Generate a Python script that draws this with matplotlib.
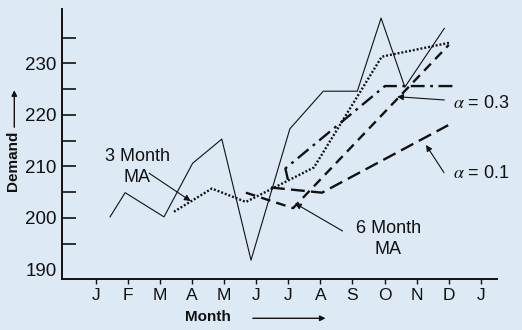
import matplotlib
matplotlib.use("Agg")
import matplotlib.pyplot as plt

plt.rcParams["font.family"] = ["Liberation Sans", "DejaVu Sans"]
plt.rcParams["mathtext.fontset"] = "stix"
plt.rcParams["lines.scale_dashes"] = False

BG = "#dde9f5"
INK = "#111111"

# month axis: J F M A M J J A S O N D J
month_labels = ["J", "F", "M", "A", "M", "J", "J", "A", "S", "O", "N", "D", "J"]

# actual demand
demand_x = [0.45, 0.92, 2.13, 3.02, 3.93, 4.84, 6.05, 7.09, 8.15, 8.89, 9.63, 10.86]
demand = [200.2, 204.9, 200.2, 210.6, 215.3, 191.8, 217.3, 224.6, 224.6, 238.8, 225.4, 236.8]

# 3 month moving average
ma3_x = [2.44, 3.62, 4.68, 6.80, 8.91, 11.01]
ma3 = [201.2, 205.7, 203.1, 209.8, 231.3, 234.0]

# 6 month moving average
ma6_x = [4.68, 6.15, 11.0]
ma6 = [204.9, 201.9, 233.6]

# exponential smoothing, alpha = 0.3
es3_x = [5.99, 5.91, 9.01, 11.13]
es3 = [207.4, 209.6, 225.6, 225.6]

# exponential smoothing, alpha = 0.1
es1_x = [5.46, 7.05, 10.98]
es1 = [205.9, 204.9, 218.0]

y_major = [190, 200, 210, 220, 230]
y_minor = [195, 205, 215, 225, 235]

fig = plt.figure(figsize=(5.22, 3.30), dpi=100, facecolor=BG)
ax = fig.add_axes([0.1188, 0.1536, 0.8333, 0.8182])
ax.set_facecolor(BG)

ax.plot(demand_x, demand, color=INK, lw=0.8)
ax.plot(ma3_x, ma3, color=INK, lw=1.7, linestyle=(0, (1.4, 1.4)))
ax.plot(ma6_x, ma6, color=INK, lw=1.7, linestyle=(0, (7, 4.5)))
ax.plot(es3_x, es3, color=INK, lw=1.7, linestyle=(0, (10, 4, 2, 4)))
ax.plot(es1_x, es1, color=INK, lw=1.7, linestyle=(0, (10, 4.5)))

ax.set_xlim(-1.046, 12.5)
ax.set_ylim(188.08, 240.5)

for side in ("top", "right"):
    ax.spines[side].set_visible(False)
for side in ("left", "bottom"):
    ax.spines[side].set_linewidth(1.4)
    ax.spines[side].set_color(INK)

ax.set_xticks(range(len(month_labels)))
ax.set_xticklabels(month_labels, fontsize=12.5)
ax.tick_params(axis="x", direction="out", length=3.6, width=1.0, pad=3, colors=INK)

ax.set_yticks(y_major)
ax.set_yticklabels([str(v) for v in y_major], fontsize=13.5)
ax.set_yticks(y_minor, minor=True)
ax.tick_params(axis="y", which="both", direction="in", length=10, width=1.2, pad=4, colors=INK)
ax.yaxis.get_major_ticks()[0].tick1line.set_visible(False)

# series labels with pointer arrows
arrow = dict(arrowstyle="-|>", color=INK, lw=0.8, mutation_scale=9, shrinkA=0, shrinkB=0)
ax.annotate("", xy=(2.96, 203.28), xytext=(1.67, 208.66), arrowprops=arrow)
ax.annotate("", xy=(6.21, 202.83), xytext=(7.69, 197.46), arrowprops=arrow)
ax.annotate("", xy=(9.39, 223.53), xytext=(10.86, 222.9), arrowprops=arrow)
ax.annotate("", xy=(10.29, 214.16), xytext=(10.85, 208.78), arrowprops=arrow)

ax.text(1.29, 209.94, "3 Month\nMA", ha="center", va="center", fontsize=13, linespacing=1.3, color=INK)
ax.text(9.12, 195.84, "6 Month\nMA", ha="center", va="center", fontsize=13, linespacing=1.3, color=INK)
ax.text(11.14, 222.25, r"$\alpha$ = 0.3", ha="left", va="center", fontsize=13, color=INK)
ax.text(11.12, 208.66, r"$\alpha$ = 0.1", ha="left", va="center", fontsize=13, color=INK)

# axis titles with direction arrows
fig.text(0.398, 0.040, "Month", ha="center", va="center", fontsize=11, fontweight="bold", color=INK)
fig.text(0.0249, 0.512, "Demand", ha="center", va="center", rotation=90, fontsize=11,
         fontweight="bold", color=INK)
fig.add_artist(matplotlib.patches.FancyArrowPatch(
    (0.479, 0.0355), (0.629, 0.0355), transform=fig.transFigure,
    arrowstyle="-|>", mutation_scale=8, lw=1.0, color=INK))
fig.add_artist(matplotlib.patches.FancyArrowPatch(
    (0.0274, 0.606), (0.0274, 0.735), transform=fig.transFigure,
    arrowstyle="-|>", mutation_scale=8, lw=1.0, color=INK))

fig.savefig("out.png", dpi=100, facecolor=BG)
